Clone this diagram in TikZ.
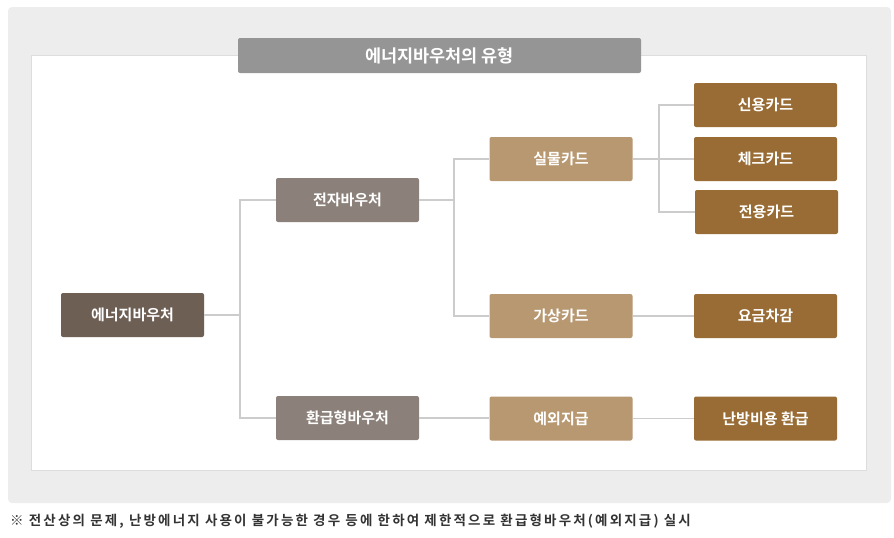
\documentclass[tikz,border=0pt]{standalone}
\usepackage{fontspec}
\newfontfamily\krb{Noto Sans CJK KR Bold}
\newfontfamily\krn[LetterSpace=16]{Noto Sans CJK KR Bold}
\definecolor{bgg}{HTML}{EDEDED}
\definecolor{inb}{HTML}{DDDDDD}
\definecolor{ttl}{HTML}{959595}
\definecolor{c1}{HTML}{6E5F55}
\definecolor{c2}{HTML}{8C817A}
\definecolor{c3}{HTML}{B89871}
\definecolor{c4}{HTML}{986C34}
\definecolor{ln}{HTML}{CCCCCC}
\definecolor{ft}{HTML}{333333}
\tikzset{
  box/.style={rounded corners=2pt, minimum width=143pt, minimum height=44pt, inner sep=0pt, text=white, font=\krb\fontsize{15}{17}\selectfont},
  lv1/.style={box, fill=c1},
  lv2/.style={box, fill=c2},
  lv3/.style={box, fill=c3},
  lv4/.style={box, fill=c4},
  conn/.style={draw=ln, line width=1.4pt}
}
\begin{document}
\begin{tikzpicture}[x=1pt,y=-1pt]
\useasboundingbox (0,0) rectangle (894,538);
\fill[bgg, rounded corners=4pt] (8,7) rectangle (891,503);
\fill[white, draw=inb] (31,55) rectangle (866,470);
\node[fill=ttl, rounded corners=2pt, minimum width=403pt, minimum height=35pt, inner sep=0pt, text=white, font=\krb\fontsize{17.5}{19}\selectfont] (title) at (439.5,55.5) {에너지바우처의 유형};
\node[lv1] (ev) at (132.5,315) {에너지바우처};
\node[lv2] (el) at (347.5,200) {전자바우처};
\node[lv2] (rf) at (347.5,418) {환급형바우처};
\node[lv3] (pc) at (561,159) {실물카드};
\node[lv3] (vc) at (561,316) {가상카드};
\node[lv3] (ex) at (561,418.5) {예외지급};
\node[lv4] (cr) at (765.5,105) {신용카드};
\node[lv4] (ck) at (765.5,159) {체크카드};
\node[lv4] (dd) at (766.5,212) {전용카드};
\node[lv4] (fe) at (765.5,316) {요금차감};
\node[lv4] (hr) at (765.5,418.5) {난방비용 환급};
\coordinate (j1) at (240,315);
\coordinate (j2) at (454,200);
\coordinate (j3) at (659,159);
\draw[conn] (ev.east) -- (j1);
\draw[conn] (j1) |- (el.west);
\draw[conn] (j1) |- (rf.west);
\draw[conn] (el.east) -- (j2);
\draw[conn] (j2) |- (pc.west);
\draw[conn] (j2) |- (vc.west);
\draw[conn] (pc.east) -- (ck.west);
\draw[conn] (j3) |- (cr.west);
\draw[conn] (j3) |- (dd.west);
\draw[conn] (vc.east) -- (fe.west);
\draw[conn] (rf.east) -- (rf.east -| ex.west);
\draw[conn] (ex.east) -- (hr.west);
\node[anchor=west, inner sep=0pt, text=ft, font=\krn\fontsize{13.5}{15}\selectfont] (note) at (10,521) {※ 전산상의 문제, 난방에너지 사용이 불가능한 경우 등에 한하여 제한적으로 환급형바우처(예외지급) 실시};
\end{tikzpicture}
\end{document}
